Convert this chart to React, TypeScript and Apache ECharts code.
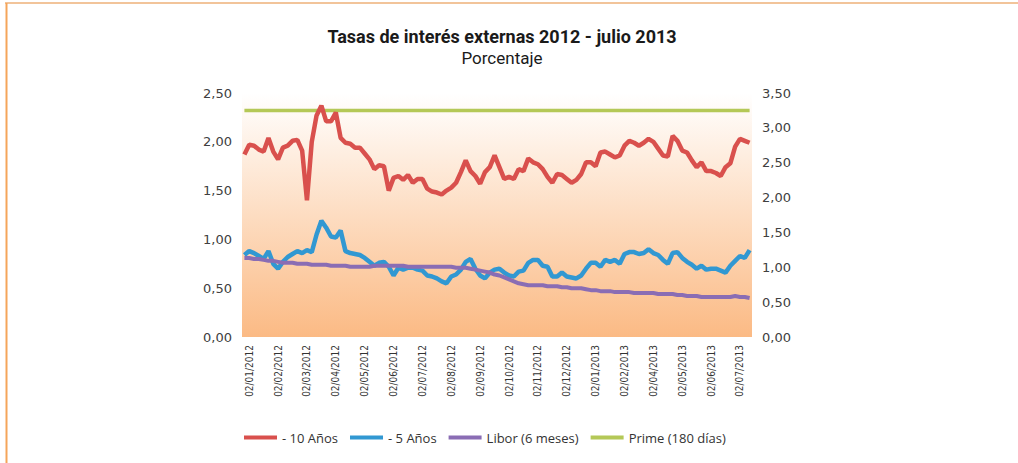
import React, { useEffect, useRef } from "react";
import * as echarts from "echarts";

const tickLabels = [
  "02/01/2012", "02/02/2012", "02/03/2012", "02/04/2012", "02/05/2012", "02/06/2012",
  "02/07/2012", "02/08/2012", "02/09/2012", "02/10/2012", "02/11/2012", "02/12/2012",
  "02/01/2013", "02/02/2013", "02/04/2013", "02/05/2013", "02/06/2013", "02/07/2013",
];
const LABEL_STEP = 6;
const LABEL_OFFSET = 1;

// - 10 Años (left axis)
const tasa10 = [
  1.87, 1.97, 1.96, 1.92, 1.90, 2.04, 1.90, 1.82, 1.94, 1.96,
  2.01, 2.02, 1.91, 1.40, 2.00, 2.27, 2.37, 2.21, 2.21, 2.30,
  2.04, 1.99, 1.98, 1.94, 1.94, 1.88, 1.82, 1.72, 1.76, 1.75,
  1.50, 1.63, 1.65, 1.61, 1.66, 1.58, 1.62, 1.62, 1.52, 1.49,
  1.48, 1.46, 1.50, 1.53, 1.58, 1.69, 1.81, 1.70, 1.65, 1.57,
  1.69, 1.74, 1.86, 1.74, 1.62, 1.64, 1.62, 1.72, 1.70, 1.83,
  1.79, 1.77, 1.72, 1.64, 1.58, 1.67, 1.66, 1.62, 1.58, 1.61,
  1.67, 1.79, 1.79, 1.75, 1.89, 1.90, 1.87, 1.84, 1.86, 1.96,
  2.01, 1.99, 1.96, 1.99, 2.03, 2.00, 1.93, 1.86, 1.85, 2.06,
  2.01, 1.91, 1.89, 1.81, 1.74, 1.79, 1.70, 1.70, 1.68, 1.65,
  1.74, 1.78, 1.95, 2.03, 2.01, 1.99,
];

// - 5 Años (left axis)
const tasa5 = [
  0.84, 0.88, 0.86, 0.83, 0.80, 0.88, 0.75, 0.70, 0.77, 0.82,
  0.85, 0.88, 0.86, 0.89, 0.87, 1.05, 1.19, 1.12, 1.03, 1.02,
  1.09, 0.88, 0.86, 0.85, 0.84, 0.81, 0.77, 0.73, 0.76, 0.77,
  0.72, 0.63, 0.71, 0.69, 0.71, 0.71, 0.69, 0.68, 0.63, 0.62,
  0.60, 0.57, 0.55, 0.62, 0.64, 0.69, 0.77, 0.80, 0.70, 0.63,
  0.60, 0.66, 0.69, 0.70, 0.66, 0.63, 0.62, 0.67, 0.68, 0.76,
  0.79, 0.79, 0.73, 0.72, 0.62, 0.62, 0.66, 0.62, 0.61, 0.60,
  0.63, 0.70, 0.76, 0.76, 0.72, 0.79, 0.77, 0.79, 0.75, 0.85,
  0.87, 0.87, 0.85, 0.86, 0.90, 0.86, 0.84, 0.79, 0.75, 0.86,
  0.87, 0.81, 0.77, 0.74, 0.70, 0.73, 0.69, 0.70, 0.70, 0.68,
  0.66, 0.73, 0.78, 0.83, 0.81, 0.89,
];

// Libor (6 meses) (left axis)
const libor6m = [
  0.81, 0.81, 0.80, 0.80, 0.79, 0.78, 0.78, 0.77, 0.76, 0.76,
  0.76, 0.75, 0.75, 0.75, 0.74, 0.74, 0.74, 0.74, 0.73, 0.73,
  0.73, 0.73, 0.72, 0.72, 0.72, 0.72, 0.72, 0.73, 0.73, 0.73,
  0.73, 0.73, 0.73, 0.73, 0.72, 0.72, 0.72, 0.72, 0.72, 0.72,
  0.72, 0.72, 0.72, 0.72, 0.71, 0.71, 0.71, 0.70, 0.69, 0.68,
  0.67, 0.66, 0.64, 0.63, 0.61, 0.59, 0.57, 0.55, 0.54, 0.53,
  0.53, 0.53, 0.53, 0.52, 0.52, 0.52, 0.51, 0.51, 0.50, 0.50,
  0.50, 0.49, 0.48, 0.48, 0.47, 0.47, 0.47, 0.46, 0.46, 0.46,
  0.46, 0.45, 0.45, 0.45, 0.45, 0.45, 0.44, 0.44, 0.44, 0.44,
  0.43, 0.43, 0.42, 0.42, 0.42, 0.41, 0.41, 0.41, 0.41, 0.41,
  0.41, 0.41, 0.42, 0.41, 0.41, 0.40,
];

// Prime (180 días) (right axis) — constant over the period
const PRIME_RATE = 3.25;

const leftTicks = { min: 0, max: 2.5, interval: 0.5 };
const rightTicks = { min: 0, max: 3.5, interval: 0.5 };

const categories = tasa10.map((_, i) =>
  (i - LABEL_OFFSET) % LABEL_STEP === 0 ? tickLabels[(i - LABEL_OFFSET) / LABEL_STEP] : `d${i}`
);
const prime180 = tasa10.map(() => PRIME_RATE);

const fmt = (v: number) => v.toFixed(2).replace(".", ",");

const NUM_FONT = "'DejaVu Sans', Verdana, sans-serif";
const TITLE_FONT = "Roboto, 'Liberation Sans Narrow', sans-serif";
const NARROW = "'Liberation Sans Narrow', 'DejaVu Sans Condensed', Roboto, sans-serif";
const LEGEND_FONT = "'Open Sans', Lato, sans-serif";

export default function App() {
  const ref = useRef<HTMLDivElement>(null);
  useEffect(() => {
    if (!ref.current) return;
    const chart = echarts.init(ref.current, undefined, { renderer: "svg" });
    chart.setOption({
      animation: false,
      backgroundColor: "#ffffff",
      title: {
        text: "Tasas de interés externas 2012 - julio 2013",
        subtext: "Porcentaje",
        left: 497,
        textAlign: "center",
        top: 22,
        itemGap: 4,
        textStyle: { fontFamily: TITLE_FONT, fontSize: 18, fontWeight: "bold", color: "#1a1a1a" },
        subtextStyle: { fontFamily: TITLE_FONT, fontSize: 17, color: "#1a1a1a" },
      },
      graphic: [
        { type: "line", shape: { x1: 5, y1: 3, x2: 1018, y2: 3 }, style: { stroke: "#f2c49a", lineWidth: 2 } },
        { type: "line", shape: { x1: 6.5, y1: 3, x2: 6.5, y2: 463 }, style: { stroke: "#f5a55a", lineWidth: 2 } },
      ],
      grid: {
        left: 242,
        right: 266,
        top: 93,
        bottom: 126,
        show: true,
        borderWidth: 0,
        backgroundColor: new echarts.graphic.LinearGradient(0, 0, 0, 1, [
          { offset: 0, color: "#ffffff" },
          { offset: 1, color: "#fbba84" },
        ]),
      },
      legend: {
        left: 239,
        top: 426,
        itemWidth: 33,
        itemHeight: 4,
        itemGap: 12,
        icon: "rect",
        textStyle: { fontFamily: LEGEND_FONT, fontSize: 13, color: "#333333" },
        data: ["- 10 Años", "- 5 Años", "Libor (6 meses)", "Prime (180 días)"],
      },
      xAxis: {
        type: "category",
        data: categories,
        boundaryGap: true,
        axisLine: { show: false },
        axisTick: { show: false },
        splitLine: { show: false },
        axisLabel: {
          interval: (index: number) => (index - LABEL_OFFSET) % LABEL_STEP === 0,
          rotate: 90,
          margin: 8,
          fontFamily: NARROW,
          fontSize: 10,
          color: "#333333",
        },
      },
      yAxis: [
        {
          type: "value",
          ...leftTicks,
          position: "left",
          axisLine: { show: false },
          axisTick: { show: false },
          splitLine: { show: false },
          axisLabel: { formatter: fmt, margin: 10, fontFamily: NUM_FONT, fontSize: 13, color: "#404040" },
        },
        {
          type: "value",
          ...rightTicks,
          position: "right",
          axisLine: { show: false },
          axisTick: { show: false },
          splitLine: { show: false },
          axisLabel: { formatter: fmt, margin: 10, fontFamily: NUM_FONT, fontSize: 13, color: "#404040" },
        },
      ],
      series: [
        {
          name: "- 10 Años",
          type: "line",
          data: tasa10,
          yAxisIndex: 0,
          symbol: "none",
          z: 3,
          color: "#d9504d",
          lineStyle: { width: 4.5, color: "#d9504d" },
        },
        {
          name: "- 5 Años",
          type: "line",
          data: tasa5,
          yAxisIndex: 0,
          symbol: "none",
          z: 4,
          color: "#3198d2",
          lineStyle: { width: 4.5, color: "#3198d2" },
        },
        {
          name: "Libor (6 meses)",
          type: "line",
          data: libor6m,
          yAxisIndex: 0,
          symbol: "none",
          z: 5,
          color: "#8a6db4",
          lineStyle: { width: 4, color: "#8a6db4" },
        },
        {
          name: "Prime (180 días)",
          type: "line",
          data: prime180,
          yAxisIndex: 1,
          symbol: "none",
          z: 2,
          color: "#b4c857",
          lineStyle: { width: 3.5, color: "#b4c857" },
        },
      ],
    });
    return () => chart.dispose();
  }, []);
  return (
    <div
      ref={ref}
      style={{ position: "fixed", left: 0, top: 0, width: 1018, height: 463 }}
    />
  );
}
